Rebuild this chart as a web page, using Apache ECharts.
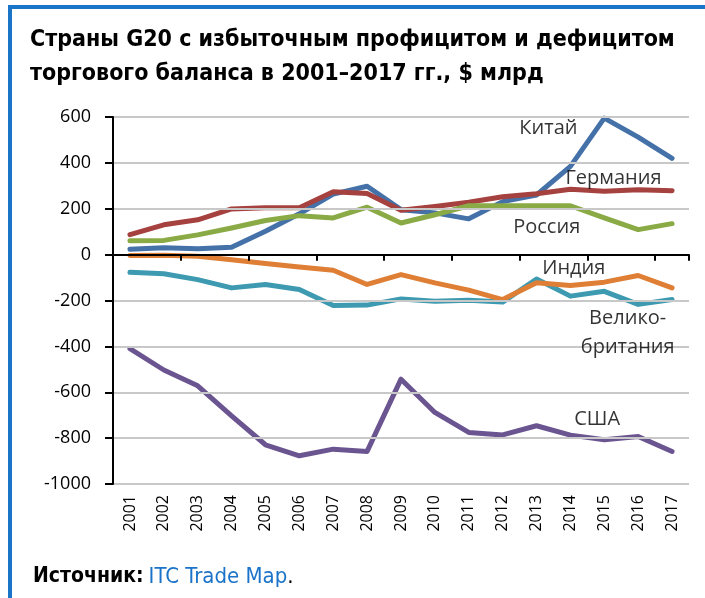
<!DOCTYPE html>
<html>
<head>
<meta charset="utf-8">
<script src="https://cdn.jsdelivr.net/npm/echarts@6/dist/echarts.min.js"></script>
<style>
html,body{margin:0;padding:0;background:#fff;}
#c{width:705px;height:598px;}
</style>
</head>
<body>
<div id="c"></div>
<script>
const years = ['2001','2002','2003','2004','2005','2006','2007','2008','2009','2010','2011','2012','2013','2014','2015','2016','2017'];
const china   = [23, 30, 26, 32, 102, 178, 264, 298, 196, 182, 156, 231, 260, 385, 595, 512, 420];
const germany = [87, 130, 152, 199, 204, 204, 274, 266, 193, 210, 228, 252, 265, 285, 276, 283, 279];
const russia  = [60, 62, 86, 116, 149, 170, 160, 207, 138, 174, 213, 213, 213, 213, 160, 109, 135];
const uk      = [-77, -83, -109, -145, -130, -152, -222, -220, -193, -203, -199, -207, -106, -181, -160, -217, -196];
const india   = [-4, -3, -7, -22, -39, -54, -68, -130, -87, -123, -155, -196, -123, -135, -120, -91, -145];
const usa     = [-410, -503, -572, -703, -829, -877, -848, -858, -543, -688, -775, -786, -746, -787, -807, -793, -858];

const seriesNames = ['Китай','Германия','Россия','Великобритания','Индия','США'];
const seriesData = [china, germany, russia, uk, india, usa];
const colors = ['#4571a9','#a5413e','#89aa45','#3d9ab1','#df7f36','#6b5591'];
// label anchors in data space: [year position (0 = 2001), value, text]
const labelAnchors = [
  [12.35, 550, 'Китай'],
  [14.27, 332, 'Германия'],
  [12.30, 120, 'Россия'],
  [14.69, -339, 'Велико-\nбритания'],
  [13.10, -61, 'Индия'],
  [13.79, -717, 'США']
];
const yTicks = {min: -1000, max: 600, interval: 200};

const chart = echarts.init(document.getElementById('c'), null, {renderer: 'canvas'});
const labelFont = '"Open Sans", "Noto Sans", sans-serif';
const narrow = '"DejaVu Sans Condensed", "Liberation Sans", sans-serif';

const series = seriesNames.map((n, i) => ({
  name: n,
  type: 'line',
  data: seriesData[i],
  xAxisIndex: 0,
  symbol: 'none',
  lineStyle: {width: 5, color: colors[i], join: 'round', cap: 'round'},
  itemStyle: {color: colors[i]},
  z: 2 + i
}));
series.push({
  name: 'labels',
  type: 'scatter',
  xAxisIndex: 2,
  symbolSize: 0,
  silent: true,
  z: 20,
  data: labelAnchors.map(a => ({value: [a[0], a[1]], name: a[2]})),
  label: {
    show: true, position: 'inside', color: '#000',
    fontFamily: labelFont, fontSize: 20, lineHeight: 29, align: 'center',
    formatter: p => p.name
  }
});

chart.setOption({
  animation: false,
  backgroundColor: '#fff',
  title: [{
    text: 'Страны G20 с избыточным профицитом и дефицитом\nторгового баланса в 2001–2017 гг., $ млрд',
    left: 30, top: 23, padding: 0,
    textStyle: {fontFamily: narrow, fontWeight: 'bold', fontSize: 23, lineHeight: 34, color: '#000'}
  }, {
    text: '{b|Источник:} {l|ITC Trade Map}{n|.}',
    left: 33, top: 566, padding: 0,
    textStyle: {
      rich: {
        b: {fontFamily: narrow, fontWeight: 'bold', fontSize: 21, color: '#000'},
        l: {fontFamily: narrow, fontWeight: 'normal', fontSize: 22, color: '#1a73c8'},
        n: {fontFamily: narrow, fontWeight: 'normal', fontSize: 22, color: '#000'}
      }
    }
  }],
  graphic: [
    {type: 'rect', shape: {x: 8, y: 5, width: 697, height: 4}, style: {fill: '#1a75c9'}},
    {type: 'rect', shape: {x: 8, y: 5, width: 4, height: 593}, style: {fill: '#1a75c9'}}
  ],
  grid: {left: 113, right: 16, top: 117, bottom: 114, containLabel: false},
  xAxis: [{
    type: 'category', data: years, position: 'bottom', boundaryGap: true,
    axisLine: {show: true, onZero: true, lineStyle: {color: '#000', width: 2}},
    axisTick: {show: true, inside: false, length: 6, lineStyle: {color: '#000', width: 2}},
    axisLabel: {show: false},
    splitLine: {show: false},
    z: 10
  }, {
    type: 'category', data: years, position: 'bottom', boundaryGap: true,
    axisLine: {show: false, onZero: false},
    axisTick: {show: false},
    axisLabel: {show: true, rotate: 90, margin: 11, fontFamily: labelFont, fontSize: 16, color: '#000'},
    splitLine: {show: false}
  }, {
    type: 'value', min: -0.5, max: years.length - 0.5, show: false,
    axisLine: {onZero: false}, splitLine: {show: false}
  }],
  yAxis: {
    type: 'value', min: yTicks.min, max: yTicks.max, interval: yTicks.interval,
    position: 'left',
    axisLine: {show: true, onZero: false, lineStyle: {color: '#000', width: 2}},
    axisTick: {show: true, inside: false, length: 8, lineStyle: {color: '#000', width: 2}},
    axisLabel: {margin: 22, fontFamily: labelFont, fontSize: 18, color: '#000', formatter: v => String(v)},
    splitLine: {show: true, lineStyle: {color: '#c8c8c8', width: 2}},
    z: 10
  },
  series: series
});
</script>
</body>
</html>
